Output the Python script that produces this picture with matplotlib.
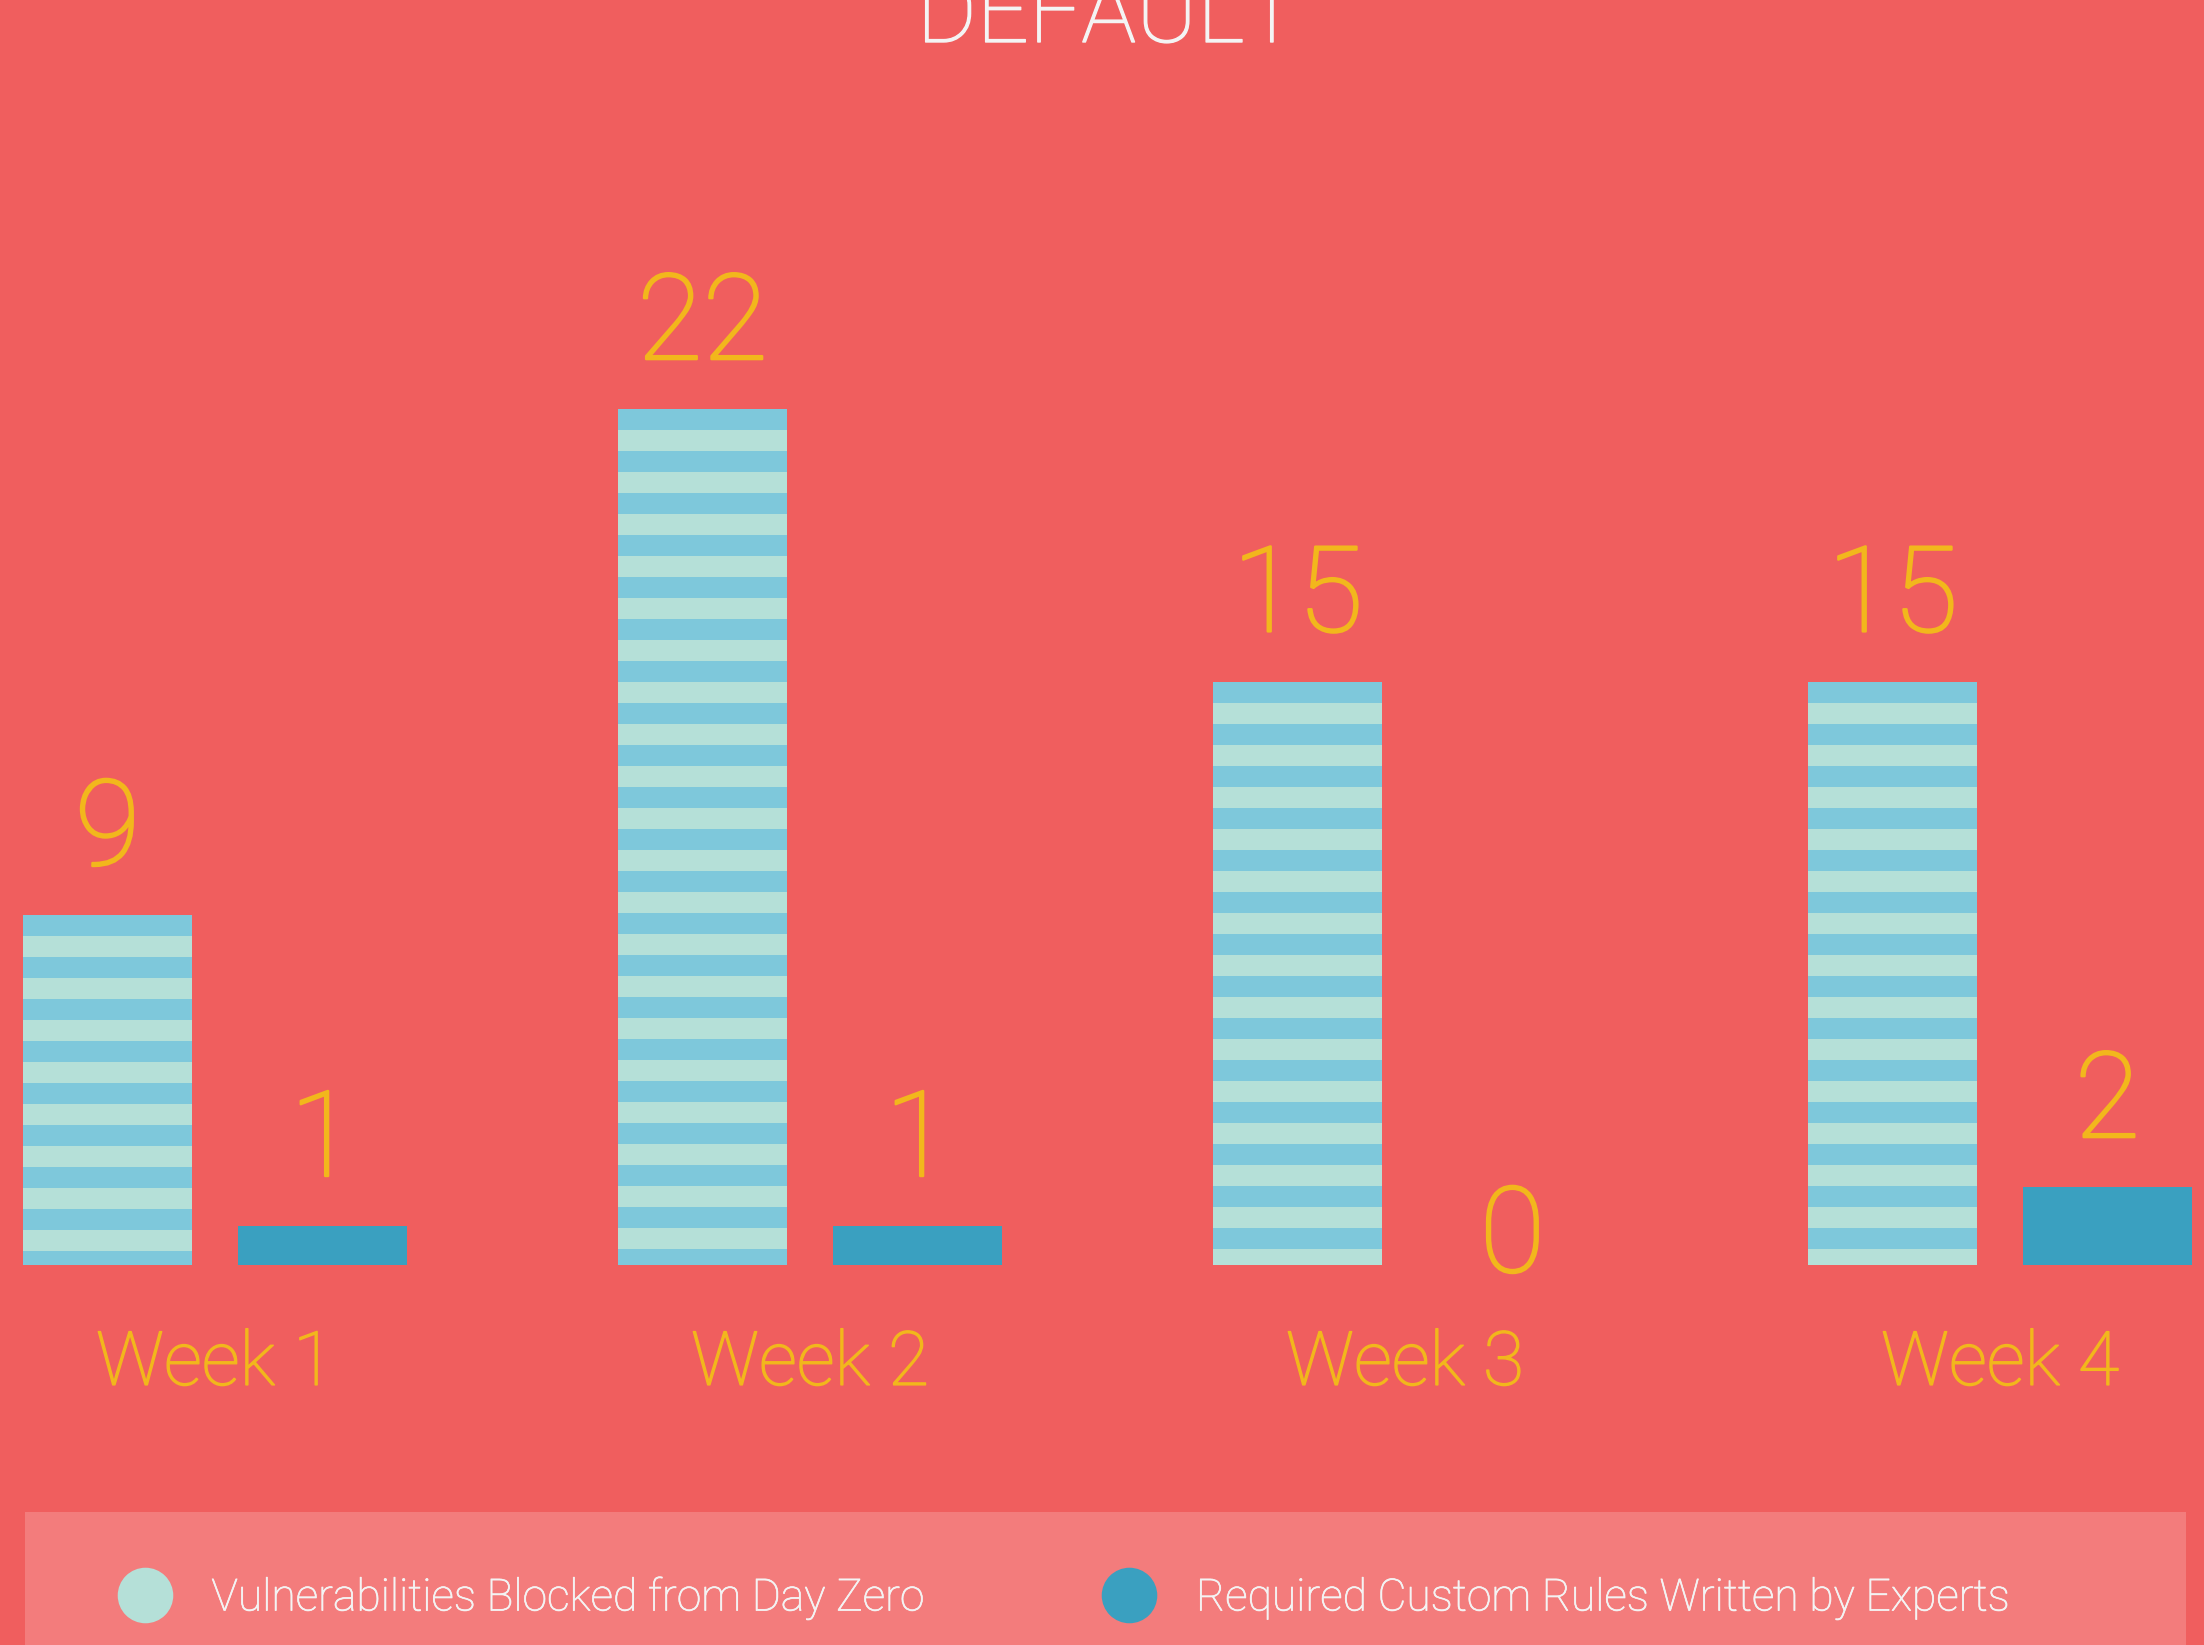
import matplotlib
matplotlib.use("Agg")
import matplotlib.pyplot as plt
import matplotlib.patheffects as pe
import numpy as np
from matplotlib.patches import Rectangle
from matplotlib.lines import Line2D

weeks = ["Week 1", "Week 2", "Week 3", "Week 4"]
blocked = [9, 22, 15, 15]
custom_rules = [1, 1, 0, 2]
series_names = ["Vulnerabilities Blocked from Day Zero",
                "Required Custom Rules Written by Experts"]

BG = "#F05E5E"
LEGEND_BG = "#F37C7C"
STRIPE_LIGHT = "#B5E0D8"
STRIPE_BLUE = "#7EC8DB"
SOLID_BLUE = "#3AA0C0"
YELLOW = "#F2B71C"
WHITE = "#F4F4F4"

plt.rcParams['font.family'] = ['Roboto', 'DejaVu Sans']


def thicker(lw, color):
    # Roboto Light is a bit thinner than the original font
    return [pe.withStroke(linewidth=lw, foreground=color)]


W, H = 2204, 1645
fig = plt.figure(figsize=(W / 100, H / 100), dpi=100, facecolor=BG)

# axes: baseline at 1265 px from top, 38.9 px per unit, group spacing 595 px
base_px = H - 1265
ax = fig.add_axes([0, base_px / H, 1, 1265 / H])
ax.set_facecolor(BG)
ax.set_xlim(-215 / 595, (W - 215) / 595)
ax.set_ylim(0, 1265 / 38.9)
for s in ax.spines.values():
    s.set_visible(False)
ax.set_yticks([])

x = np.arange(len(weeks))
width = 0.284
off = 0.1805

bars1 = ax.bar(x - off, blocked, width, color=STRIPE_LIGHT, zorder=2)
bars2 = ax.bar(x + off, custom_rules, width, color=SOLID_BLUE, zorder=2)

# horizontal stripes anchored at the top of each bar
stripe_h = 0.54
for bar, v in zip(bars1, blocked):
    k = 0
    top = v
    while top > 0:
        bot = max(top - stripe_h, 0)
        ax.bar(bar.get_x() + width / 2, top - bot, width, bottom=bot,
               color=STRIPE_BLUE, zorder=3, linewidth=0)
        k += 1
        top = v - 2 * k * stripe_h

# value labels
for bars, vals in [(bars1, blocked), (bars2, custom_rules)]:
    for bar, v in zip(bars, vals):
        dy = -5 if v == 0 else 36
        ax.annotate(str(v), (bar.get_x() + bar.get_width() / 2, v),
                    xytext=(0, dy), textcoords="offset points",
                    ha="center", va="baseline", fontsize=86,
                    fontweight="light", color=YELLOW, zorder=4,
                    path_effects=thicker(1.6, YELLOW))

ax.set_xticks(x, weeks)
ax.tick_params(axis="x", length=0, pad=46, labelsize=54, labelcolor=YELLOW)
for t in ax.get_xticklabels():
    t.set_fontweight("light")
    t.set_path_effects(thicker(1.0, YELLOW))

# title, cut off at the top like the original
fig.text(1108 / W, 1 - 42 / H, "DEFAULT", ha="center", va="baseline",
         fontsize=66, fontweight="light", color=WHITE,
         path_effects=thicker(1.0, WHITE))

# legend box
fig.patches.append(Rectangle((25 / W, 0), (2186 - 25) / W, (H - 1512) / H,
                             transform=fig.transFigure, facecolor=LEGEND_BG,
                             edgecolor="none", zorder=0))
handles = [Line2D([], [], marker="o", linestyle="none", markersize=40,
                  markerfacecolor=c, markeredgecolor="none")
           for c in [STRIPE_LIGHT, SOLID_BLUE]]
leg = fig.legend(handles, series_names, loc="center left",
                 bbox_to_anchor=(78 / W, 1 - 1598 / H), ncol=2,
                 frameon=False, fontsize=32, labelcolor=WHITE,
                 handletextpad=0.9, columnspacing=4.0, handlelength=1.2)
for t in leg.get_texts():
    t.set_fontweight("light")
    t.set_path_effects(thicker(0.5, WHITE))

fig.savefig("out.png", dpi=100, facecolor=BG)
